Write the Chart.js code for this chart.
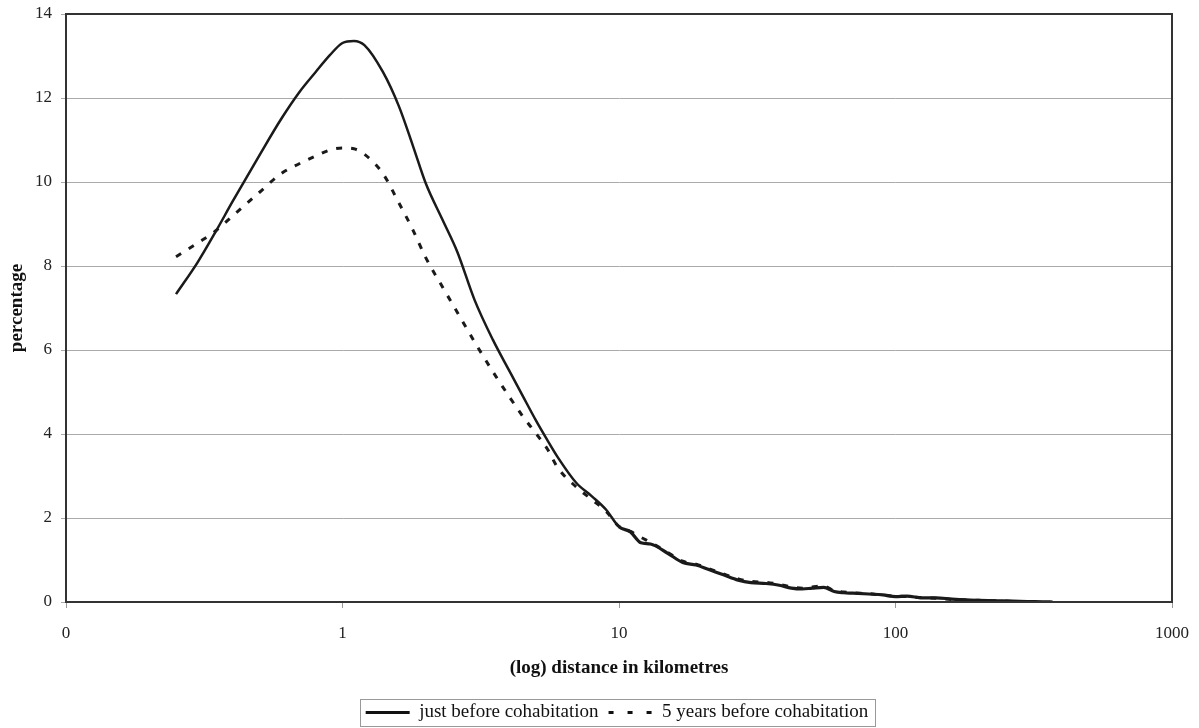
<!DOCTYPE html>
<html>
<head>
<meta charset="utf-8">
<script src="https://cdn.jsdelivr.net/npm/chart.js@4"></script>
<style>
  html, body { margin: 0; padding: 0; background: #fff; }
  #wrap { width: 1199px; height: 728px; }
</style>
</head>
<body>
<div id="wrap"><canvas id="distChart"></canvas></div>
<script>
// distance (km) and percentage
const distanceKm = [0.25, 0.3, 0.35, 0.4, 0.5, 0.6, 0.7, 0.8, 0.9, 1.0, 1.1, 1.2, 1.4, 1.6, 1.8, 2.0, 2.3, 2.6, 3.0, 3.5,
  4, 4.5, 5, 5.5, 6, 7, 8, 9, 10, 11, 12, 13, 15, 17, 19, 21, 24, 27, 30, 34,
  38, 42, 46, 50, 55, 60, 65, 70, 80, 90, 100, 110, 125, 140, 160, 180, 200, 230, 260, 300,
  340, 370];
const justBefore = [7.33, 8.1, 8.85, 9.53, 10.63, 11.5, 12.15, 12.62, 13.02, 13.31, 13.36, 13.26, 12.62, 11.8, 10.85, 9.97, 9.1, 8.34, 7.2, 6.24,
  5.52, 4.89, 4.33, 3.86, 3.45, 2.84, 2.51, 2.19, 1.79, 1.67, 1.41, 1.38, 1.16, 0.94, 0.88, 0.78, 0.64, 0.52, 0.46, 0.44,
  0.40, 0.33, 0.31, 0.33, 0.35, 0.25, 0.22, 0.21, 0.19, 0.17, 0.13, 0.14, 0.10, 0.10, 0.07, 0.05, 0.04, 0.03, 0.02, 0.01,
  0.005, 0.0];
const fiveYearsBefore = [8.22, 8.55, 8.85, 9.19, 9.75, 10.2, 10.44, 10.62, 10.76, 10.81, 10.79, 10.66, 10.2, 9.5, 8.85, 8.2, 7.5, 6.9, 6.2, 5.48,
  4.9, 4.41, 4.02, 3.65, 3.2, 2.74, 2.43, 2.15, 1.8, 1.68, 1.54, 1.42, 1.18, 0.97, 0.90, 0.80, 0.66, 0.55, 0.49, 0.47,
  0.42, 0.36, 0.33, 0.36, 0.38, 0.27, 0.24, 0.22, 0.20, 0.16, 0.14, 0.13, 0.10, 0.09, 0.06, 0.05, 0.04, 0.03, 0.02, 0.01,
  null, null];

const xTickValues = [0.1, 1, 10, 100, 1000];
const xTickLabels = ['0', '1', '10', '100', '1000'];
const seriesNames = ['just before cohabitation', '5 years before cohabitation'];
const legendDash = [[], [5, 14]];

const FONT = "'Liberation Serif', 'Times New Roman', serif";
const LEGEND_SHIFT = 31; // legend sits a bit right of centre in the original

function toPoints(ys) {
  return distanceKm.map((d, i) => ({ x: d, y: ys[i] }));
}

// frame round the plot area, a box round the legend, and the legend nudge
const framePlugin = {
  id: 'frame',
  afterLayout(chart) {
    const lg = chart.legend;
    if (!lg) return;
    lg.left += LEGEND_SHIFT;
    lg.right += LEGEND_SHIFT;
    lg.top += 4;
    lg.bottom += 4;
  },
  afterDraw(chart) {
    const { ctx, chartArea: a } = chart;
    ctx.save();
    ctx.strokeStyle = '#333';
    ctx.lineWidth = 2;
    ctx.strokeRect(a.left, a.top, a.right - a.left, a.bottom - a.top);
    const boxes = chart.legend && chart.legend.legendHitBoxes;
    if (boxes && boxes.length) {
      const l = Math.min(...boxes.map(b => b.left)) - 6;
      const r = Math.max(...boxes.map(b => b.left + b.width)) + 6;
      const t = Math.min(...boxes.map(b => b.top)) - 4;
      const btm = Math.max(...boxes.map(b => b.top + b.height)) + 4;
      ctx.strokeStyle = '#999';
      ctx.lineWidth = 1;
      ctx.strokeRect(Math.round(l) + 0.5, Math.round(t) + 0.5, Math.round(r - l), Math.round(btm - t));
    }
    ctx.restore();
  }
};

new Chart(document.getElementById('distChart'), {
  type: 'line',
  data: {
    datasets: [{
      label: seriesNames[0],
      data: toPoints(justBefore),
      borderColor: '#1a1a1a',
      borderWidth: 2.5,
      pointRadius: 0,
      cubicInterpolationMode: 'monotone',
      // the noisy tail reads as a heavier line in the original
      segment: { borderWidth: c => (c.p0.parsed.x >= 10 ? 3.2 : undefined) }
    }, {
      label: seriesNames[1],
      data: toPoints(fiveYearsBefore),
      borderColor: '#1a1a1a',
      borderWidth: 3,
      borderDash: [6, 9],
      pointRadius: 0,
      cubicInterpolationMode: 'monotone'
    }]
  },
  options: {
    responsive: true,
    maintainAspectRatio: false,
    animation: false,
    layout: { padding: { top: 14, right: 27, left: 0, bottom: 0 } },
    plugins: {
      tooltip: { enabled: false },
      legend: {
        position: 'bottom',
        labels: {
          usePointStyle: true,
          pointStyle: 'line',
          pointStyleWidth: 44,
          padding: 10,
          color: '#111',
          font: { family: FONT, size: 19 },
          generateLabels(chart) {
            const items = Chart.defaults.plugins.legend.labels.generateLabels(chart);
            items.forEach((it, i) => {
              it.lineDash = legendDash[i];
              it.lineWidth = 3;
              it.strokeStyle = '#111';
            });
            return items;
          }
        }
      }
    },
    scales: {
      x: {
        type: 'logarithmic',
        min: 0.1,
        max: 1000,
        afterBuildTicks(scale) {
          scale.ticks = xTickValues.map(v => ({ value: v }));
        },
        afterFit(scale) {
          scale.height = 87;
          scale.paddingLeft = 0;
          scale.paddingRight = 0;
        },
        ticks: {
          autoSkip: false,
          maxRotation: 0,
          padding: 15,
          color: '#222',
          font: { family: FONT, size: 17 },
          callback: (v) => {
            const i = xTickValues.indexOf(v);
            return i >= 0 ? xTickLabels[i] : '';
          }
        },
        grid: { drawOnChartArea: false, drawTicks: true, tickLength: 6, color: '#999' },
        border: { display: true, color: '#333', width: 2 },
        title: {
          display: true,
          text: '(log) distance in kilometres',
          color: '#111',
          font: { family: FONT, size: 19, weight: 'bold' },
          padding: { top: 0, bottom: 10 }
        }
      },
      y: {
        min: 0,
        max: 14,
        afterFit(scale) {
          scale.width = 66;
          scale.paddingTop = 0;
          scale.paddingBottom = 0;
        },
        ticks: {
          stepSize: 2,
          padding: 9,
          color: '#222',
          font: { family: FONT, size: 17 }
        },
        grid: { color: '#aaa', lineWidth: 1, drawTicks: true, tickLength: 5 },
        border: { display: true, color: '#333', width: 2 },
        title: {
          display: true,
          text: 'percentage',
          color: '#111',
          font: { family: FONT, size: 19, weight: 'bold' },
          padding: { top: 6, bottom: 0 }
        }
      }
    }
  },
  plugins: [framePlugin]
});
</script>
</body>
</html>
